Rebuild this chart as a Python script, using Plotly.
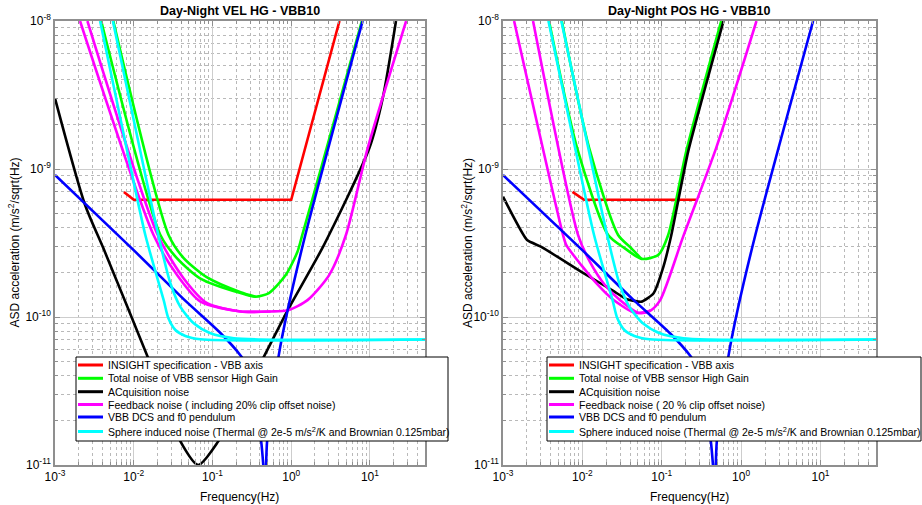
import numpy as np
import plotly.graph_objects as go

# ---- values (frequency in Hz, ASD in m/s^2/sqrt(Hz)) ----

# shared between both panels
dcs_f = [1e-3, 0.0099, 0.043, 0.126, 0.227, 0.288, 0.415, 0.467, 0.494, 0.69, 0.9, 1.51, 8.07]
dcs_a = [9.1e-10, 2.84e-10, 1.32e-10, 7.8e-11, 5.5e-11, 4.5e-11, 1.45e-11, 7.3e-12, 1.45e-11,
         5.4e-11, 1.11e-10, 3.58e-10, 1.0e-8]

sphere1_f = [3.74e-3, 7.35e-3, 0.01403, 0.024, 0.0275, 0.0338, 0.0453, 0.0703, 50]
sphere1_a = [1e-8, 1.78e-9, 3.58e-10, 1.30e-10, 9.84e-11, 8.17e-11, 7.45e-11, 7.07e-11, 7.05e-11]
sphere2_f = [5.43e-3, 0.01044, 0.0205, 0.0292, 0.0391, 0.0578, 0.0944, 0.187, 0.408, 50]
sphere2_a = [1e-8, 1.92e-9, 3.58e-10, 1.69e-10, 1.17e-10, 9.06e-11, 7.76e-11, 7.18e-11, 7.05e-11, 7.05e-11]

# VEL panel
spec_vel_f = [7.5e-3, 0.01, 1.0, 4.1]
spec_vel_a = [7.0e-10, 6.2e-10, 6.2e-10, 1.0e-8]

total_vel1_f = [3.86e-3, 0.0218, 0.0355, 0.0703, 0.2275, 0.353, 0.521, 0.851, 1.2, 1.38, 2.45, 7.9]
total_vel1_a = [1e-8, 3.58e-10, 2.49e-10, 1.82e-10, 1.45e-10, 1.37e-10, 1.45e-10, 1.92e-10,
                2.76e-10, 3.58e-10, 1.06e-9, 1e-8]
total_vel2_f = [5.5e-3, 0.0277, 0.0431, 0.0855, 0.2275, 0.353]
total_vel2_a = [1e-8, 3.58e-10, 2.5e-10, 1.85e-10, 1.47e-10, 1.37e-10]

acq_vel_f = [1e-3, 2.41e-3, 4.12e-3, 0.0147, 0.039, 0.066, 0.119, 0.45, 0.9, 2.6, 9.8, 14.5, 21.4]
acq_vel_a = [3.0e-9, 5.71e-10, 2.91e-10, 5.53e-11, 1.45e-11, 1.0e-11, 1.45e-11, 5.4e-11,
             1.11e-10, 3.06e-10, 1.38e-9, 3.0e-9, 1e-8]

fb_vel1_f = [2.08e-3, 0.01786, 0.0355, 0.0703, 0.2275, 0.548, 0.9, 1.61, 3.03, 4.95, 9.35, 28.8]
fb_vel1_a = [1e-8, 3.58e-10, 1.92e-10, 1.27e-10, 1.09e-10, 1.09e-10, 1.11e-10, 1.30e-10,
             1.92e-10, 3.58e-10, 1.38e-9, 1e-8]
fb_vel2_f = [2.58e-3, 0.0202, 0.0431, 0.0855, 0.2275, 0.548]
fb_vel2_a = [1e-8, 3.58e-10, 1.82e-10, 1.24e-10, 1.09e-10, 1.09e-10]

# POS panel
spec_pos_f = [7.5e-3, 0.0105, 0.27]
spec_pos_a = [7.0e-10, 6.2e-10, 6.2e-10]

total_pos1_f = [3.8e-3, 8.57e-3, 0.0211, 0.0343, 0.0555, 0.090, 0.1205, 0.203, 0.561]
total_pos1_a = [1e-8, 1.39e-9, 3.58e-10, 2.91e-10, 2.47e-10, 2.62e-10, 3.58e-10, 1.31e-9, 1e-8]
total_pos2_f = [5.5e-3, 0.01216, 0.0282, 0.0415, 0.0555]
total_pos2_a = [1e-8, 1.39e-9, 3.58e-10, 2.91e-10, 2.47e-10]

acq_pos_f = [1e-3, 2.01e-3, 3.04e-3, 9.7e-3, 0.0245, 0.0363, 0.056, 0.0785, 0.105, 0.132, 0.215, 0.6]
acq_pos_a = [6.5e-10, 3.31e-10, 2.98e-10, 2.02e-10, 1.50e-10, 1.32e-10, 1.27e-10, 1.44e-10,
             2.19e-10, 3.58e-10, 1.31e-9, 1e-8]

fb_pos1_f = [1.38e-3, 5.71e-3, 6.28e-3, 9.7e-3, 0.0158, 0.0232, 0.0415, 0.0555, 0.0714, 0.0955,
             0.186, 0.485, 1.56]
fb_pos1_a = [1e-8, 3.58e-10, 3.06e-10, 2.24e-10, 1.64e-10, 1.34e-10, 1.09e-10, 1.06e-10, 1.10e-10,
             1.30e-10, 3.49e-10, 1.39e-9, 1e-8]
fb_pos2_f = [2.39e-3, 8.83e-3, 0.0125, 0.0193, 0.0299, 0.0504, 0.0714]
fb_pos2_a = [1e-8, 3.58e-10, 2.35e-10, 1.64e-10, 1.30e-10, 1.07e-10, 1.10e-10]

legend_vel = ["INSIGHT specification - VBB axis",
              "Total noise of VBB sensor High Gain",
              "ACquisition noise",
              "Feedback noise ( including 20% clip offset noise)",
              "VBB DCS and f0 pendulum",
              "Sphere induced noise (Thermal @ 2e-5 m/s<sup>2</sup>/K and Brownian 0.125mbar)"]
legend_pos = legend_vel[:3] + ["Feedback noise ( 20 % clip offset noise)"] + legend_vel[4:]

x_ticks = [1e-3, 1e-2, 1e-1, 1e0, 1e1]
x_ticktext = ["10<sup>-3</sup>", "10<sup>-2</sup>", "10<sup>-1</sup>", "10<sup>0</sup>", "10<sup>1</sup>"]
y_ticks = [1e-11, 1e-10, 1e-9, 1e-8]
y_ticktext = ["10<sup>-11</sup>", "10<sup>-10</sup>", "10<sup>-9</sup>", "10<sup>-8</sup>"]

# ---- styling ----
W, H = 922, 505
FONT = "Liberation Sans, Arial, Helvetica, sans-serif"
COLORS = ["#ff0000", "#00ff00", "#000000", "#ff00ff", "#0000ff", "#00ffff"]
GRID = "#cdcdcd"
FRAME = "#8f8f8f"


def px(x):
    return x / W


def py(y):
    return 1 - y / H


fig = go.Figure()


def add_line(f, a, color, xa, ya, shape="spline", smooth=0.7):
    fig.add_trace(go.Scatter(x=f, y=a, mode="lines", xaxis=xa, yaxis=ya, showlegend=False,
                             line=dict(color=color, width=2.6, shape=shape, smoothing=smooth),
                             hoverinfo="skip"))


panels = [
    ("x", "y", [(spec_vel_f, spec_vel_a, 0, "linear"),
                (total_vel1_f, total_vel1_a, 1, "spline"), (total_vel2_f, total_vel2_a, 1, "spline"),
                (acq_vel_f, acq_vel_a, 2, "spline"),
                (fb_vel1_f, fb_vel1_a, 3, "spline"), (fb_vel2_f, fb_vel2_a, 3, "spline"),
                (dcs_f, dcs_a, 4, "spline"),
                (sphere1_f, sphere1_a, 5, "spline"), (sphere2_f, sphere2_a, 5, "spline")]),
    ("x2", "y2", [(spec_pos_f, spec_pos_a, 0, "linear"),
                  (total_pos1_f, total_pos1_a, 1, "spline"), (total_pos2_f, total_pos2_a, 1, "spline"),
                  (acq_pos_f, acq_pos_a, 2, "spline"),
                  (fb_pos1_f, fb_pos1_a, 3, "spline"), (fb_pos2_f, fb_pos2_a, 3, "spline"),
                  (dcs_f, dcs_a, 4, "spline"),
                  (sphere1_f, sphere1_a, 5, "spline"), (sphere2_f, sphere2_a, 5, "spline")]),
]
for xa, ya, series in panels:
    for f, a, ci, shp in series:
        add_line(f, a, COLORS[ci], xa, ya, shp, 0.45 if f is acq_pos_f else 0.7)

minor_x = [m * 10.0 ** e for e in range(-3, 2) for m in range(2, 10) if m * 10.0 ** e <= 50]
minor_y = [m * 10.0 ** e for e in range(-11, -8) for m in range(2, 10)]

axis_common = dict(type="log", showline=True, mirror="allticks", linecolor=FRAME, linewidth=1.5,
                   showgrid=True, gridcolor=GRID, gridwidth=1, ticks="inside", ticklen=5,
                   tickcolor=FRAME, zeroline=False, tickfont=dict(size=12, color="black"))
xcfg = dict(axis_common, range=[-3, np.log10(50)], tickvals=x_ticks, ticktext=x_ticktext,
            minor=dict(tickvals=minor_x, showgrid=True, gridcolor="#b9b9b9", griddash="dot",
                       ticks="inside", ticklen=3, tickcolor=FRAME))
ycfg = dict(axis_common, range=[-11, -8], tickvals=y_ticks, ticktext=y_ticktext,
            minor=dict(tickvals=minor_y, showgrid=True, gridcolor="#b9b9b9", griddash="dot",
                       ticks="inside", ticklen=3, tickcolor=FRAME))

y_dom = [py(465), py(21)]
fig.update_layout(
    width=W, height=H, margin=dict(l=0, r=0, t=0, b=0, autoexpand=False),
    paper_bgcolor="white", plot_bgcolor="white",
    font=dict(family=FONT, color="black"),
    xaxis=dict(xcfg, domain=[px(55), px(425)], anchor="y"),
    yaxis=dict(ycfg, domain=y_dom, anchor="x"),
    xaxis2=dict(xcfg, domain=[px(503), px(876)], anchor="y2"),
    yaxis2=dict(ycfg, domain=y_dom, anchor="x2"),
)

# titles and axis labels
for cx, title, ytx in [(240, "Day-Night VEL HG - VBB10", 13.5), (689.5, "Day-Night POS HG - VBB10", 467)]:
    fig.add_annotation(x=px(cx), y=py(11), xref="paper", yref="paper", showarrow=False,
                       xanchor="center", yanchor="middle",
                       text=f"<b>{title}</b>", font=dict(size=12.5))
    fig.add_annotation(x=px(cx), y=py(497), xref="paper", yref="paper", showarrow=False,
                       xanchor="center", yanchor="middle",
                       text="Frequency(Hz)", font=dict(size=12))
    fig.add_annotation(x=px(ytx), y=py(243), xref="paper", yref="paper", showarrow=False,
                       xanchor="center", yanchor="middle", textangle=-90,
                       text="ASD acceleration (m/s<sup>2</sup>/sqrt(Hz)", font=dict(size=12))

# MATLAB-style legend boxes
ROWS = [365, 378.3, 391.7, 404.5, 417, 431.5]


def add_legend(x0, x1, labels):
    fig.add_shape(type="rect", xref="paper", yref="paper", x0=px(x0), x1=px(x1),
                  y0=py(441), y1=py(357), fillcolor="white", line=dict(color="black", width=1),
                  layer="above")
    for yy, lab, col in zip(ROWS, labels, COLORS):
        fig.add_shape(type="line", xref="paper", yref="paper", x0=px(x0 + 2), x1=px(x0 + 27),
                      y0=py(yy), y1=py(yy), line=dict(color=col, width=3), layer="above")
        fig.add_annotation(x=px(x0 + 30), y=py(yy), xref="paper", yref="paper", showarrow=False,
                           xanchor="left", yanchor="middle", text=lab, font=dict(size=10.5))


add_legend(76, 448, legend_vel)
add_legend(547, 921, legend_pos)

# drop the page's default body margin so the figure fills the window exactly
fig.write_html("out.html", config={"displayModeBar": False},
               post_script="document.body.style.margin='0px';")
